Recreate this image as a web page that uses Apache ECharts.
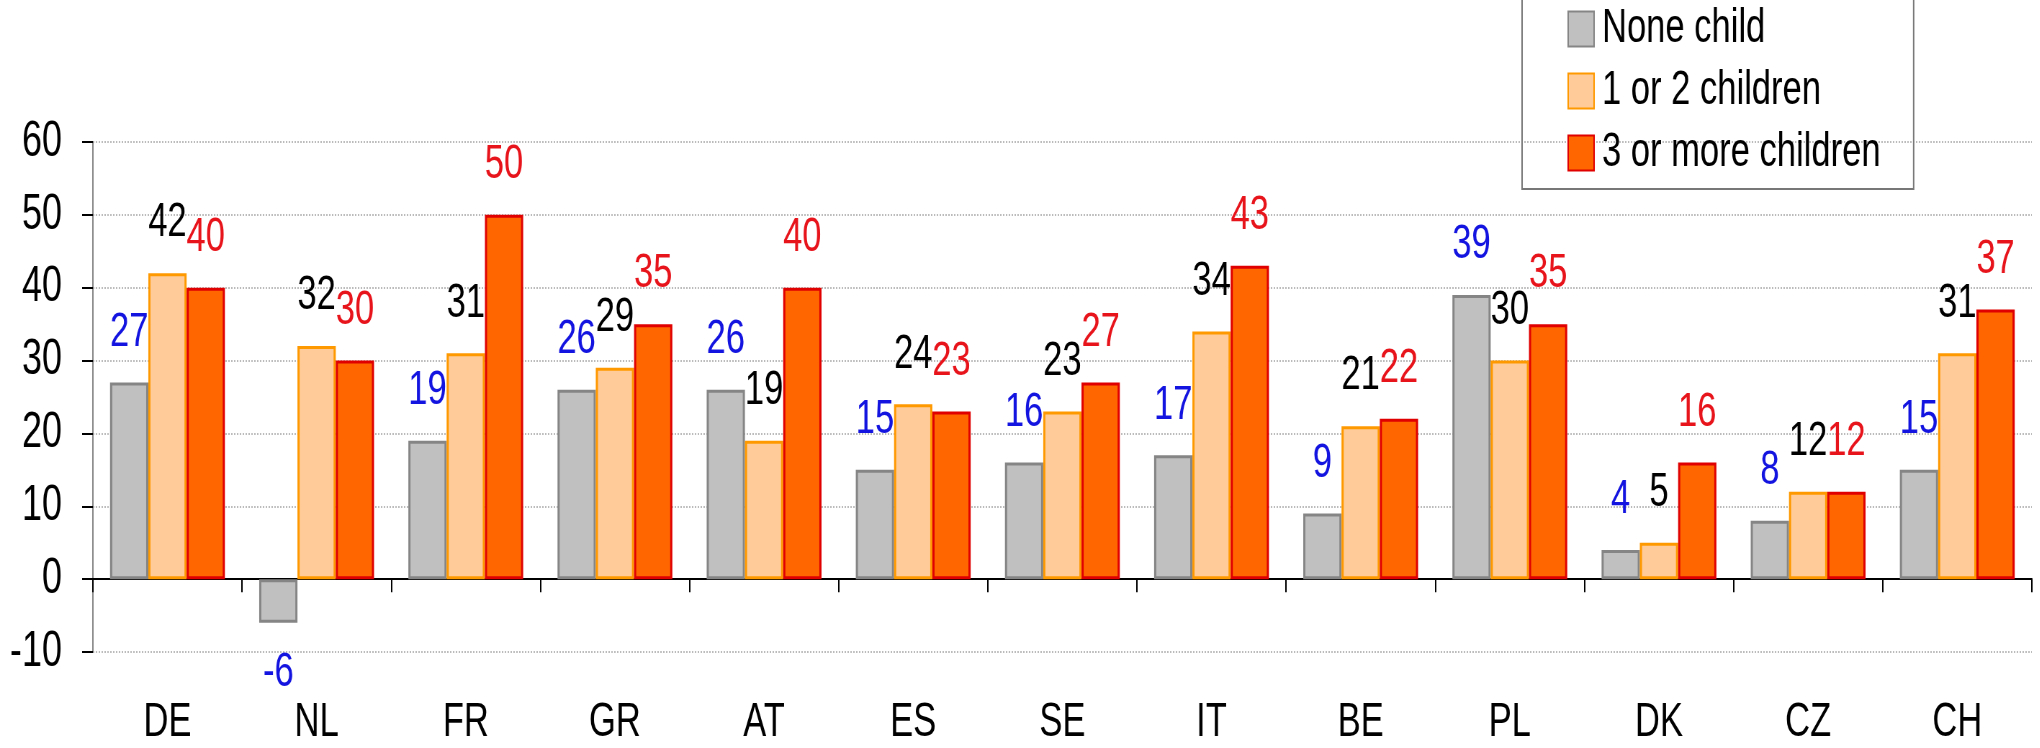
<!DOCTYPE html>
<html>
<head>
<meta charset="utf-8">
<script src="https://cdn.jsdelivr.net/npm/echarts@6/dist/echarts.min.js"></script>
<style>
  html, body { margin: 0; padding: 0; background: #fff; overflow: hidden; }
  /* the source image is horizontally condensed: draw wide, squeeze to 2040px */
  #chart { width: 2833px; height: 748px; transform: scaleX(0.72); transform-origin: 0 0; }
</style>
</head>
<body>
<div id="chart"></div>
<script>
// ========== Change by number of children ==========
const countries = ['DE', 'NL', 'FR', 'GR', 'AT', 'ES', 'SE', 'IT', 'BE', 'PL', 'DK', 'CZ', 'CH'];
const noneChild = [27, -6, 19, 26, 26, 15, 16, 17, 9, 39, 4, 8, 15];
const oneTwo    = [42, 32, 31, 29, 19, 24, 23, 34, 21, 30, 5, 12, 31];
const threePlus = [40, 30, 50, 35, 40, 23, 27, 43, 22, 35, 16, 12, 37];
const seriesNames = ['None child', '1 or 2 children', '3 or more children'];

const FONT = '"Liberation Sans", Arial, sans-serif';

// negative bars get the label underneath
const toItems = arr => arr.map(v => v < 0 ? { value: v, label: { position: 'bottom' } } : v);

function barSeries(name, data, fill, border, bw, labelColor) {
    return {
        name: name, type: 'bar', data: toItems(data),
        barGap: '0%', barCategoryGap: '23%',
        itemStyle: { color: fill, borderColor: border, borderWidth: bw },
        label: { show: true, position: 'top', distance: 26, color: labelColor,
                 fontFamily: FONT, fontSize: 48 }
    };
}

const chart = echarts.init(document.getElementById('chart'));
chart.setOption({
    animation: false,
    backgroundColor: '#fff',
    textStyle: { fontFamily: FONT },
    grid: { left: 129, right: 11, top: 142, bottom: 96, containLabel: false, outerBoundsMode: 'none' },
    legend: {
        orient: 'vertical', left: 2114, top: -15,
        padding: [20, 46, 12, 63],
        itemGap: 14, itemWidth: 36, itemHeight: 35, icon: 'rect',
        borderColor: '#777', borderWidth: 2,
        textStyle: { fontFamily: FONT, fontSize: 48, color: '#000', padding: [0, 0, 0, 6] },
        data: seriesNames
    },
    xAxis: [{
        type: 'category', data: countries, position: 'bottom',
        axisLine: { show: false, onZero: false }, axisTick: { show: false },
        axisLabel: { color: '#000', fontSize: 48, fontFamily: FONT, margin: 47 }
    }, {
        type: 'category', data: countries, position: 'bottom',
        axisLine: { onZero: true, lineStyle: { color: '#000', width: 2 } },
        axisTick: { show: true, length: 13, lineStyle: { color: '#000', width: 2 } },
        axisLabel: { show: false }
    }],
    yAxis: {
        type: 'value', min: -10, max: 60, interval: 10,
        axisLine: { show: true, lineStyle: { color: '#888', width: 2 } },
        axisTick: { show: true, length: 15, lineStyle: { color: '#000', width: 2 } },
        axisLabel: { color: '#000', fontSize: 50, fontFamily: FONT, margin: 43 },
        splitLine: { lineStyle: { color: '#bbb', type: 'dotted', width: 2 } }
    },
    series: [
        barSeries(seriesNames[0], noneChild, '#c0c0c0', '#858585', 3, '#1414e0'),
        barSeries(seriesNames[1], oneTwo, '#ffcc99', '#ff9900', 3, '#000'),
        barSeries(seriesNames[2], threePlus, '#ff6600', '#e00000', 3, '#e8141c')
    ]
});
</script>
</body>
</html>
